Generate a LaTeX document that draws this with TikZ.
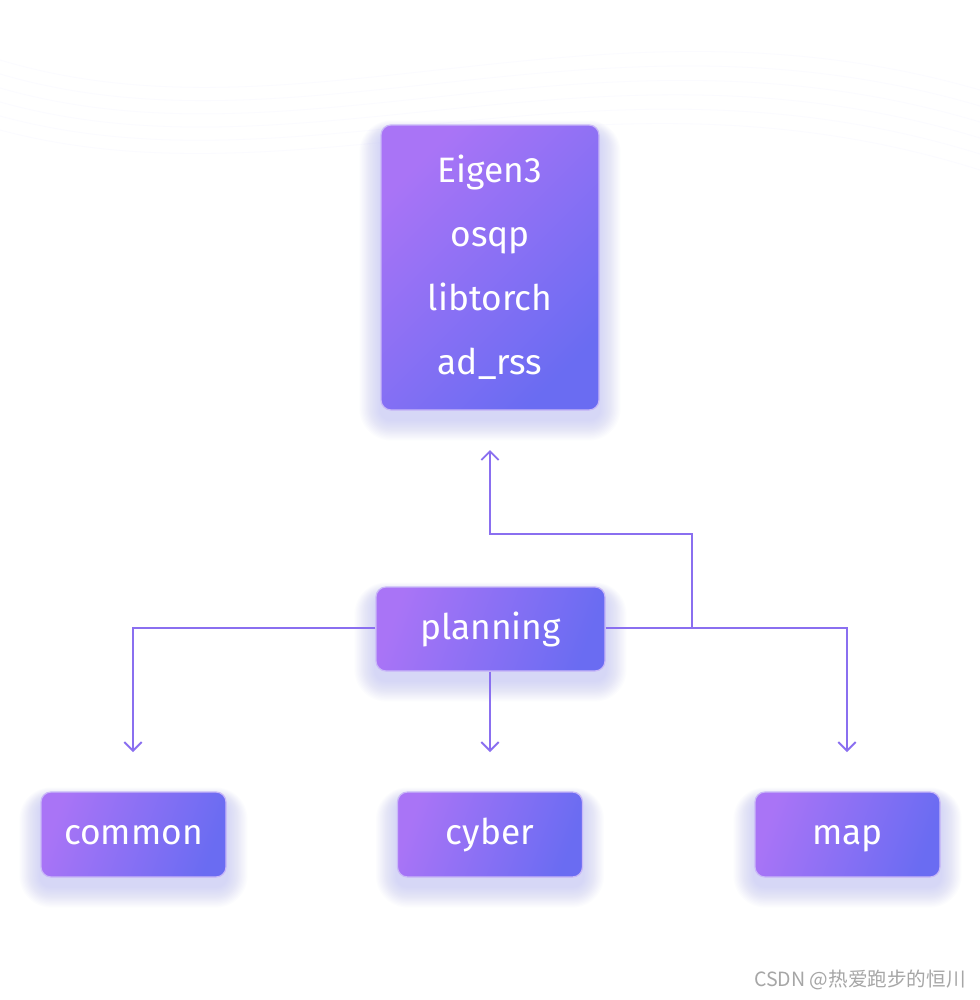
\documentclass[tikz,border=0pt]{standalone}
\usepackage{fontspec}
\setmainfont{Fira Sans}
\newfontfamily\cjk{Noto Sans CJK SC}
\usetikzlibrary{arrows.meta,backgrounds,calc}
\definecolor{gpurple}{HTML}{A974F6}
\definecolor{gblue}{HTML}{6A6CF2}
\definecolor{linec}{HTML}{8A6FF0}
\definecolor{edgec}{HTML}{C9B8F8}
\definecolor{glowc}{HTML}{7F82F6}
\tikzset{
  gbase/.style={rounded corners=7.5pt, draw=edgec, line width=0.9pt,
    top color=gpurple, bottom color=gblue, shading angle=#1,
    text=white, inner sep=0pt},
  gbox/.style={gbase=#1, font=\fontsize{26.5}{48}\selectfont, align=center},
  gsingle/.style={gbase=#1, font=\fontsize{26.5}{30}\selectfont, text height=19.5pt, text depth=4pt},
  conn/.style={draw=linec, line width=1.4pt},
  arr/.style={conn, -{Straight Barb[length=6.5pt,width=13pt,line width=1.4pt]}},
}
\newcommand\glowof[1]{%
  \foreach \i in {1,...,16}{
    \fill[glowc, opacity=0.018, rounded corners=7.5pt+\i*1pt]
      ($(#1.north west)+(-\i*1.3,9-\i*0.8)$) rectangle ($(#1.south east)+(\i*1.3,9+\i*1.3)$);
  }}
\begin{document}
\begin{tikzpicture}[x=0.75pt,y=-0.75pt]
\useasboundingbox (0,0) rectangle (980,1000);
\node[gbox=45, minimum width=163.5pt, minimum height=213.75pt] (deps) at (490,267.5)
  {Eigen3\\osqp\\libtorch\\ad\_rss};
\node[gsingle=70, minimum width=171.75pt, minimum height=63pt] (planning) at (490.5,629) {planning};
\node[gsingle=70, minimum width=138.75pt, minimum height=63.75pt] (common) at (133.5,834.5) {common};
\node[gsingle=70, minimum width=138.75pt, minimum height=63.75pt] (cyber) at (490,834.5) {cyber};
\node[gsingle=70, minimum width=138.75pt, minimum height=63.75pt] (map) at (847.5,834.5) {map};
\begin{pgfonlayer}{background}
  \fill[white] (0,0) rectangle (980,1000);
  \foreach \k in {0,...,5}{
    \draw[gblue!2.5, line width=0.6pt] (0,60+\k*14) .. controls (300,150+\k*12) and (600,-20+\k*14) .. (980,90+\k*16);
  }
  \glowof{deps}\glowof{planning}\glowof{common}\glowof{cyber}\glowof{map}
\end{pgfonlayer}
\coordinate (lc) at (133,752);
\coordinate (cc) at (490,752);
\coordinate (rc) at (847,752);
\coordinate (uc) at (490,450);
\coordinate (br) at (692,628);
\draw[arr] (planning.west |- 0,628) -| (lc);
\draw[arr] (cc |- planning.south) -- (cc);
\draw[arr] (planning.east |- 0,628) -| (rc);
\draw[arr] (br) |- (620,534) -| (uc);
\node[anchor=east, text=gray!70, font=\cjk\fontsize{14.7}{16}\selectfont, inner sep=0pt] (wm) at (966,980) {CSDN @热爱跑步的恒川};
\end{tikzpicture}
\end{document}
